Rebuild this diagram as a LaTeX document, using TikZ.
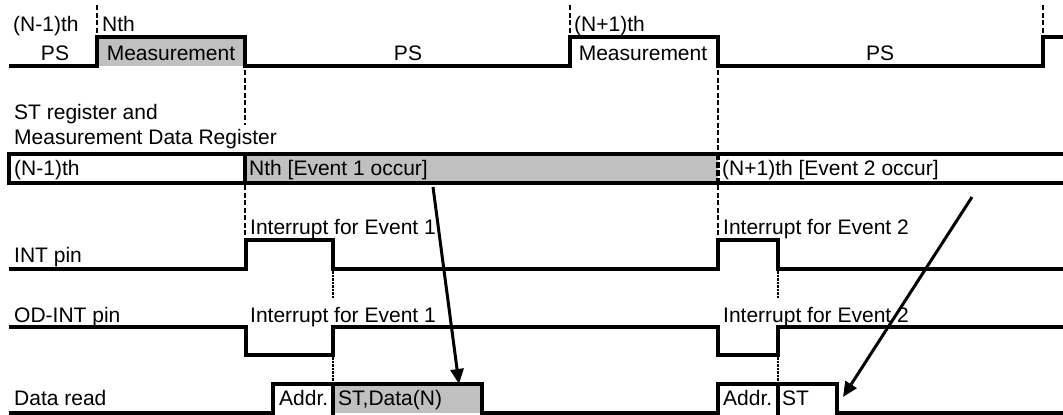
\documentclass[tikz,border=0pt]{standalone}
\usepackage{fontspec}
\setmainfont{Liberation Sans}
\usetikzlibrary{arrows.meta}
\definecolor{fillgray}{RGB}{192,192,192}
\begin{document}
\begin{tikzpicture}[x=1pt,y=-1pt,
  wave/.style={line width=4pt, line join=miter},
  guide/.style={line width=2.3pt, dash pattern=on 5pt off 2.5pt},
  fineguide/.style={line width=2pt, dash pattern=on 2.5pt off 1pt},
  lbl/.style={inner sep=0pt, anchor=base west, font=\fontsize{21}{25}\selectfont},
  ctr/.style={inner sep=0pt, anchor=base, font=\fontsize{21}{25}\selectfont},
  event/.style={line width=3pt, -{Triangle[length=15pt,width=13pt]}}]
\useasboundingbox (0,0) rectangle (1063,415);

% grey fills
\fill[fillgray] (97,37) rectangle (245,66);
\fill[fillgray] (245,154) rectangle (718,183);
\fill[fillgray] (333,384) rectangle (482,413);

% guide lines
\draw[guide] (97,5) -- (97,35);
\draw[guide] (570,5) -- (570,35);
\draw[guide] (1043,5) -- (1043,35);
\draw[guide] (245,70) -- (245,125);
\draw[guide] (718,70) -- (718,154);
\draw[guide] (245,185) -- (245,238);
\draw[guide] (718,185) -- (718,238);
\draw[fineguide] (333,271) -- (333,298);
\draw[fineguide] (333,357) -- (333,384);
\draw[fineguide] (778,271) -- (778,298);
\draw[fineguide] (778,357) -- (778,384);

% PS / Measurement waveform
\draw[wave] (9,66) -- (97,66) -- (97,37) -- (245,37) -- (245,66) -- (570,66) -- (570,37)
  -- (718,37) -- (718,66) -- (1043,66) -- (1043,37) -- (1063,37);

% register bar
\draw[wave] (1063,154) -- (9,154) -- (9,183) -- (1063,183);
\draw[wave] (245,154) -- (245,183);
\draw[line width=3.5pt, dash pattern=on 6pt off 2pt] (718,154) -- (718,183);

% INT pin
\draw[wave] (9,269) -- (246,269) -- (246,240) -- (333,240) -- (333,269) -- (718,269)
  -- (718,240) -- (778,240) -- (778,269) -- (1063,269);

% OD-INT pin
\draw[wave] (9,327) -- (246,327) -- (246,355) -- (333,355) -- (333,327) -- (718,327)
  -- (718,355) -- (778,355) -- (778,327) -- (1063,327);

% Data read
\draw[wave] (9,413) -- (273,413) -- (273,384) -- (482,384) -- (482,413) -- (718,413)
  -- (718,384) -- (837,384) -- (837,413) -- (1063,413);
\draw[wave] (333,384) -- (333,415);
\draw[wave] (778,384) -- (778,415);

% texts
\node[lbl] (tNm1) at (13,31) {(N-1)th};
\node[lbl] (tN) at (102,31) {Nth};
\node[lbl] (tNp1) at (574,31) {(N+1)th};
\node[ctr] (ps1) at (55,60) {PS};
\node[ctr] (meas1) at (171,60) {Measurement};
\node[ctr] (ps2) at (408,60) {PS};
\node[ctr] (meas2) at (643,60) {Measurement};
\node[ctr] (ps3) at (880,60) {PS};
\node[lbl] (streg) at (14,119) {ST register and};
\node[lbl] (mdreg) at (14,144) {Measurement Data Register};
\node[lbl] (r1) at (14,175) {(N-1)th};
\node[lbl] (r2) at (249,175) {Nth [Event 1 occur]};
\node[lbl] (r3) at (722,175) {(N+1)th [Event 2 occur]};
\node[lbl] (i1) at (250,234) {Interrupt for Event 1};
\node[lbl] (i2) at (723,234) {Interrupt for Event 2};
\node[lbl] (intpin) at (14,262) {INT pin};
\node[lbl] (odpin) at (14,322) {OD-INT pin};
\node[lbl] (o1) at (250,322) {Interrupt for Event 1};
\node[lbl] (o2) at (723,322) {Interrupt for Event 2};
\node[lbl] (dread) at (14,405) {Data read};
\node[lbl] (a1) at (279,405) {Addr.};
\node[lbl] (d1) at (338,405) {ST,Data(N)};
\node[lbl] (a2) at (723,405) {Addr.};
\node[lbl] (s2) at (782,405) {ST};

% event arrows
\coordinate (e1s) at (433,187);
\coordinate (e1e) at (459,384);
\coordinate (e2s) at (972,197);
\coordinate (e2e) at (843,397);
\draw[event] (e1s) -- (e1e);
\draw[event] (e2s) -- (e2e);
\end{tikzpicture}
\end{document}
